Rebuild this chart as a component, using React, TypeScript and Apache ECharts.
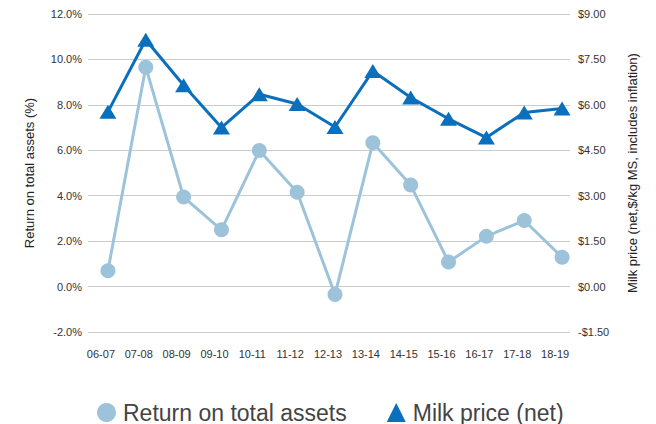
import React, { useEffect, useRef } from "react";
import * as echarts from "echarts";

const categories = ["06-07", "07-08", "08-09", "09-10", "10-11", "11-12", "12-13", "13-14", "14-15", "15-16", "16-17", "17-18", "18-19"];
const returnOnAssets = [0.7, 9.66, 3.94, 2.5, 5.99, 4.15, -0.35, 6.33, 4.47, 1.08, 2.21, 2.91, 1.29];
const milkPrice = [5.77, 8.15, 6.65, 5.25, 6.35, 6.03, 5.27, 7.12, 6.24, 5.54, 4.92, 5.75, 5.88];

const FONT = "'Liberation Sans', Arial, Helvetica, sans-serif";
const LIGHT = "#9dc3da";
const DARK = "#0a6fbd";

export default function App() {
  const ref = useRef<HTMLDivElement>(null);
  useEffect(() => {
    if (!ref.current) return;
    const chart = echarts.init(ref.current, undefined, { renderer: "svg" });
    chart.setOption({
      animation: false,
      textStyle: { fontFamily: FONT },
      grid: [
        { left: 88, right: 86, top: 14, bottom: 92 },
        { left: 89, right: 75, top: 14, bottom: 92 },
      ],
      xAxis: [
        { type: "category", gridIndex: 0, data: categories, show: false },
        {
          type: "category",
          gridIndex: 1,
          data: categories,
          boundaryGap: true,
          axisLine: { show: false },
          axisTick: { show: false },
          axisLabel: { color: "#333", fontSize: 11, fontFamily: FONT, margin: 16, padding: [0, 14, 0, 0] },
        },
      ],
      yAxis: [
        {
          type: "value",
          gridIndex: 0,
          position: "left",
          min: -2,
          max: 12,
          interval: 2,
          axisLine: { show: false },
          axisTick: { show: false },
          splitLine: { lineStyle: { color: "#cccccc", width: 1 } },
          axisLabel: { color: "#333", fontSize: 11, fontFamily: FONT, margin: 6, formatter: (v: number) => v.toFixed(1) + "%" },
          name: "Return on total assets (%)",
          nameLocation: "middle",
          nameRotate: 90,
          nameGap: 52,
          nameTextStyle: { color: "#222", fontSize: 13, fontFamily: FONT },
        },
        {
          type: "value",
          gridIndex: 0,
          position: "right",
          min: -1.5,
          max: 9,
          interval: 1.5,
          axisLine: { show: false },
          axisTick: { show: false },
          splitLine: { show: false },
          axisLabel: {
            color: "#333",
            fontSize: 11,
            fontFamily: FONT,
            margin: 8,
            formatter: (v: number) => (v < 0 ? "-$" : "$") + Math.abs(v).toFixed(2),
          },
          name: "Milk price (net,$/kg MS, includes inflation)",
          nameLocation: "middle",
          nameRotate: 90,
          nameGap: 56,
          nameTextStyle: { color: "#222", fontSize: 13, fontFamily: FONT },
        },
        { type: "value", gridIndex: 1, min: -2, max: 12, interval: 2, show: false },
        { type: "value", gridIndex: 1, position: "right", min: -1.5, max: 9, interval: 1.5, show: false },
      ],
      legend: {
        left: 92,
        top: 396,
        itemWidth: 19,
        itemHeight: 19,
        itemGap: 40,
        textStyle: { color: "#444", fontSize: 23, fontFamily: FONT, padding: [0, 0, 0, 2] },
        data: [
          { name: "Return on total assets", icon: "circle" },
          { name: "Milk price (net)", icon: "triangle" },
        ],
      },
      series: [
        {
          name: "Return on total assets",
          type: "line",
          xAxisIndex: 1,
          yAxisIndex: 2,
          data: returnOnAssets,
          symbol: "circle",
          symbolSize: 15,
          lineStyle: { color: LIGHT, width: 3 },
          itemStyle: { color: LIGHT },
        },
        {
          name: "Milk price (net)",
          type: "line",
          xAxisIndex: 1,
          yAxisIndex: 3,
          data: milkPrice,
          symbol: "triangle",
          symbolSize: [17, 14],
          lineStyle: { color: DARK, width: 3 },
          itemStyle: { color: DARK },
        },
      ],
    });
    return () => chart.dispose();
  }, []);
  return <div ref={ref} style={{ width: 656, height: 424, position: "absolute", left: 0, top: 0 }} />;
}
